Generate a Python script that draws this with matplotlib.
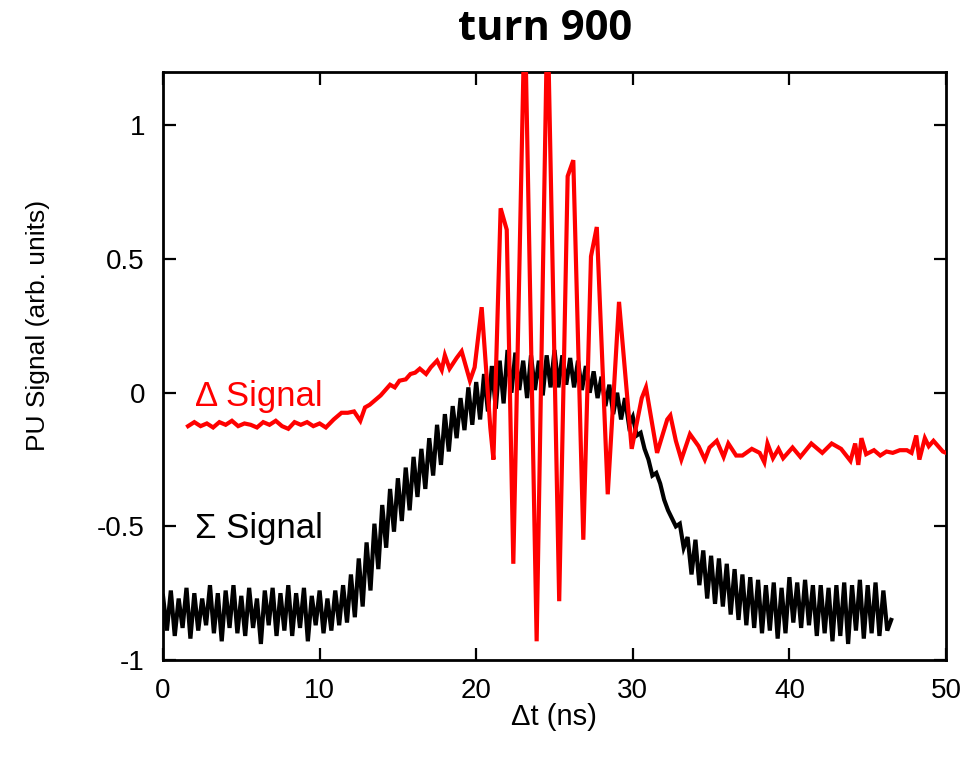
import numpy as np
import matplotlib
matplotlib.use("Agg")
import matplotlib.pyplot as plt
from matplotlib import font_manager as fm

# ---------------- data ----------------
# Sigma signal, sampled every 0.25 ns starting at 0 ns
sigma_dt = 0.25
sigma_values = [
    -0.76, -0.89, -0.74, -0.91, -0.77, -0.88, -0.73, -0.92,
    -0.75, -0.89, -0.77, -0.87, -0.72, -0.90, -0.75, -0.93,
    -0.74, -0.88, -0.72, -0.90, -0.76, -0.91, -0.73, -0.88,
    -0.77, -0.94, -0.74, -0.87, -0.73, -0.91, -0.75, -0.89,
    -0.72, -0.91, -0.75, -0.88, -0.73, -0.93, -0.76, -0.87,
    -0.74, -0.90, -0.77, -0.89, -0.74, -0.87, -0.72, -0.86,
    -0.68, -0.84, -0.62, -0.80, -0.56, -0.74, -0.49, -0.66,
    -0.42, -0.58, -0.36, -0.52, -0.32, -0.48, -0.28, -0.44,
    -0.24, -0.39, -0.21, -0.36, -0.17, -0.31, -0.12, -0.27,
    -0.08, -0.22, -0.05, -0.17, -0.02, -0.14, 0.02, -0.12,
    0.04, -0.10, 0.07, -0.07, 0.10, -0.06, 0.12, -0.04,
    0.16, 0.00, 0.15, 0.01, 0.12, -0.02, 0.14, 0.01,
    0.12, -0.01, 0.14, 0.02, 0.16, 0.02, 0.14, 0.03,
    0.13, 0.02, 0.12, 0.01, 0.10, 0.00, 0.08, -0.02,
    0.06, -0.05, 0.03, -0.08, 0.00, -0.10, -0.02, -0.12,
    -0.09, -0.16, -0.15, -0.21, -0.25, -0.31, -0.30, -0.34,
    -0.40, -0.44, -0.47, -0.50, -0.49, -0.58, -0.54, -0.68,
    -0.55, -0.72, -0.59, -0.77, -0.61, -0.79, -0.62, -0.80,
    -0.64, -0.83, -0.66, -0.85, -0.68, -0.87, -0.69, -0.88,
    -0.70, -0.90, -0.72, -0.89, -0.71, -0.92, -0.73, -0.90,
    -0.69, -0.86, -0.71, -0.88, -0.70, -0.87, -0.72, -0.91,
    -0.72, -0.90, -0.73, -0.93, -0.72, -0.91, -0.71, -0.94,
    -0.72, -0.89, -0.70, -0.92, -0.72, -0.90, -0.71, -0.91,
    -0.74, -0.89, -0.85,
]

# Delta signal vertices (time in ns, value)
delta_t = [
    1.6, 2.0, 2.4, 2.8, 3.2, 3.6, 4.0, 4.4, 4.8, 5.2, 5.6, 6.0, 6.4, 6.8,
    7.2, 7.6, 8.0, 8.4, 8.8, 9.2, 9.6, 10.0, 10.4,
    10.9, 11.4, 11.8, 12.2, 12.6, 12.9, 13.2, 13.5, 13.9, 14.2, 14.5, 14.8,
    15.1, 15.5, 15.8, 16.1, 16.4, 16.8, 17.1, 17.5, 17.8, 18.0, 18.3, 18.75,
    19.07, 19.6, 19.9, 20.35, 20.9, 21.1, 21.56, 21.95, 22.37, 23.1, 23.86,
    24.55, 25.3, 25.84, 26.2, 26.84, 27.33, 27.7, 28.4, 29.12, 29.93, 30.57,
    30.84, 31.55, 32.2, 32.4, 32.75, 33.1, 33.65, 34.2, 34.6, 34.9, 35.36,
    35.8, 36.1, 36.6, 37.0, 37.6, 38.1, 38.4, 38.6, 38.95, 39.3, 39.6, 40.2,
    40.7, 41.4, 41.8, 42.1, 42.7, 43.3, 43.9, 44.2, 44.4, 44.6, 44.9, 45.4,
    45.8, 46.2, 46.6, 47.05, 47.5, 47.8, 48.1, 48.3, 48.65, 48.9, 49.2,
    49.8, 50.0,
]
delta_values = [
    -0.125, -0.11, -0.125, -0.115, -0.13, -0.11, -0.12, -0.105, -0.125,
    -0.115, -0.12, -0.13, -0.11, -0.12, -0.105, -0.125, -0.135, -0.11,
    -0.12, -0.11, -0.125, -0.115, -0.13,
    -0.10, -0.075, -0.075, -0.07, -0.105, -0.055, -0.045, -0.03, -0.01,
    0.01, 0.03, 0.02, 0.045, 0.05, 0.07, 0.075, 0.09, 0.07, 0.095, 0.12,
    0.085, 0.14, 0.09, 0.13,
    0.155, 0.045, 0.095, 0.32, -0.13, -0.25, 0.69, 0.61, -0.64, 1.45, -0.93,
    1.45, -0.78, 0.81, 0.87, -0.55, 0.51, 0.62, -0.38, 0.34, -0.21, -0.02,
    0.02, -0.225, -0.10, -0.085, -0.18, -0.25, -0.155, -0.20, -0.25, -0.205,
    -0.18, -0.24, -0.19, -0.235, -0.235, -0.21, -0.225, -0.26, -0.19, -0.245,
    -0.21, -0.245, -0.205, -0.24, -0.19, -0.21, -0.225, -0.19, -0.21, -0.255,
    -0.19, -0.27, -0.17, -0.23, -0.215, -0.235, -0.22, -0.225, -0.215,
    -0.215, -0.225, -0.16, -0.25, -0.17, -0.20, -0.18, -0.22, -0.225,
]

x_ticks = [0, 10, 20, 30, 40, 50]
y_ticks = [-1, -0.5, 0, 0.5, 1]
y_tick_labels = ["-1", "-0.5", "0", "0.5", "1"]

# ---------------- fonts ----------------
names = {f.name for f in fm.fontManager.ttflist}
base_font = "Liberation Sans" if "Liberation Sans" in names else "DejaVu Sans"
tick_font = "Liberation Sans Narrow" if "Liberation Sans Narrow" in names else base_font
title_font = "Open Sans" if "Open Sans" in names else base_font

# ---------------- figure ----------------
fig = plt.figure(figsize=(9.71, 7.61), dpi=100)
ax = fig.add_axes([163 / 971, 1 - 660 / 761, (946 - 163) / 971, (660 - 72) / 761])

sigma_t = np.arange(len(sigma_values)) * sigma_dt
ax.plot(sigma_t, sigma_values, color="black", lw=3.0, zorder=2,
        solid_joinstyle="miter")
ax.plot(delta_t, delta_values, color="#ff0000", lw=3.0, zorder=3,
        solid_joinstyle="miter")

ax.set_xlim(0, 50)
ax.set_ylim(-1, 1.2)
ax.set_xticks(x_ticks)
ax.set_xticklabels([str(v) for v in x_ticks])
ax.set_yticks(y_ticks)
ax.set_yticklabels(y_tick_labels)

for s in ax.spines.values():
    s.set_linewidth(2.0)
ax.tick_params(direction="in", length=9, width=1.6, top=True, right=True,
               labelsize=20, pad=13)
for lab in ax.get_xticklabels() + ax.get_yticklabels():
    lab.set_fontfamily(tick_font)

ax.text(2.05, -0.05, "\u0394 Signal", color="#ff0000", fontsize=25,
        family=base_font, ha="left", va="baseline")
ax.text(2.05, -0.545, "\u03a3 Signal", color="black", fontsize=25,
        family=base_font, ha="left", va="baseline")

fig.text(554 / 971, 1 - 717 / 761, "\u0394t (ns)", fontsize=21, family=base_font,
         ha="center", va="center")
fig.text(38 / 971, 1 - 325 / 761, "PU Signal (arb. units)", fontsize=19,
         family=base_font, rotation=90, ha="center", va="center")
fig.text(545 / 971, 1 - 30 / 761, "turn 900", fontsize=30, fontweight="bold",
         family=title_font, ha="center", va="center")

fig.savefig("out.png", dpi=100)
